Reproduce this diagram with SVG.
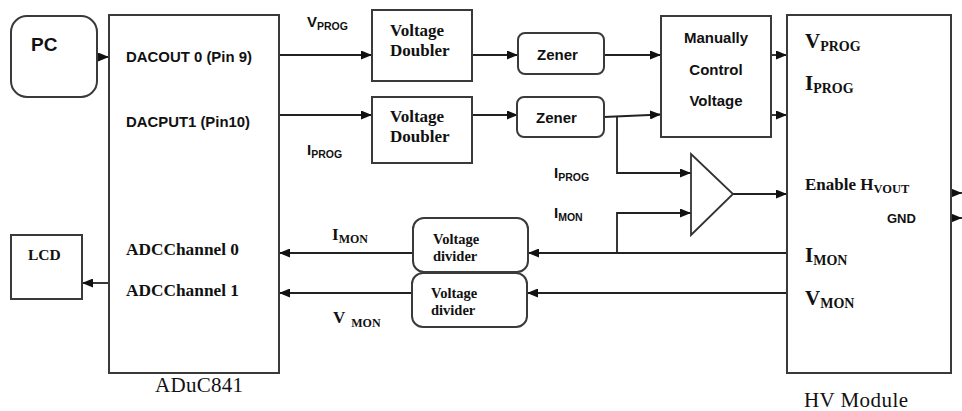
<svg xmlns="http://www.w3.org/2000/svg" width="962" height="411" viewBox="0 0 962 411">
<defs>
<marker id="ah" markerUnits="userSpaceOnUse" markerWidth="11" markerHeight="9" refX="11" refY="4.5" orient="auto">
<path d="M0,0 L11,4.5 L0,9 z" fill="#111"/>
</marker>
<style>
.box{fill:#fff;stroke:#3a3a3a;stroke-width:2}
.ln{fill:none;stroke:#222;stroke-width:1.8}
.sb{font-family:"Liberation Sans",Arial,sans-serif;font-weight:bold;fill:#111}
.rb{font-family:"Liberation Serif","Times New Roman",serif;font-weight:bold;fill:#111}
.rr{font-family:"Liberation Serif","Times New Roman",serif;fill:#111}
</style>
</defs>
<rect width="962" height="411" fill="#fff"/>

<g id="connectors">
<line class="ln" x1="97" y1="57" x2="109" y2="57" marker-end="url(#ah)"/>
<line class="ln" x1="279" y1="55" x2="372" y2="55" marker-end="url(#ah)"/>
<line class="ln" x1="279" y1="115" x2="372" y2="115" marker-end="url(#ah)"/>
<line class="ln" x1="472" y1="55" x2="518" y2="55" marker-end="url(#ah)"/>
<line class="ln" x1="472" y1="115" x2="518" y2="115" marker-end="url(#ah)"/>
<line class="ln" x1="604" y1="55" x2="661" y2="55" marker-end="url(#ah)"/>
<line class="ln" x1="604" y1="117" x2="661" y2="114.5" marker-end="url(#ah)"/>
<polyline class="ln" points="617,116.5 617,173 691,173" marker-end="url(#ah)"/>
<polyline class="ln" points="617,253 617,213 691,213" marker-end="url(#ah)"/>
<line class="ln" x1="771" y1="55" x2="787" y2="55" marker-end="url(#ah)"/>
<line class="ln" x1="771" y1="115" x2="787" y2="115" marker-end="url(#ah)"/>
<line class="ln" x1="733" y1="194" x2="787" y2="194" marker-end="url(#ah)"/>
<line class="ln" x1="787" y1="253" x2="528" y2="253" marker-end="url(#ah)"/>
<line class="ln" x1="787" y1="293" x2="527" y2="293" marker-end="url(#ah)"/>
<line class="ln" x1="413" y1="253" x2="279" y2="253" marker-end="url(#ah)"/>
<line class="ln" x1="412" y1="293" x2="279" y2="293" marker-end="url(#ah)"/>
<line class="ln" x1="109" y1="283" x2="82" y2="283" marker-end="url(#ah)"/>
<line class="ln" x1="951" y1="193" x2="962" y2="193" marker-end="url(#ah)"/>
<line class="ln" x1="951" y1="218" x2="962" y2="218" marker-end="url(#ah)"/>
</g>

<g id="pc">
<rect class="box" x="11" y="16" width="86" height="81" rx="16"/>
<text class="sb" x="31" y="51" font-size="19">PC</text>
</g>

<g id="aduc841">
<rect class="box" x="109" y="15" width="170" height="358"/>
<text class="sb" x="126" y="62" font-size="14.5" textLength="126" lengthAdjust="spacingAndGlyphs">DACOUT 0 (Pin 9)</text>
<text class="sb" x="126" y="127" font-size="14.5" textLength="124" lengthAdjust="spacingAndGlyphs">DACPUT1 (Pin10)</text>
<text class="rb" x="126" y="255" font-size="16.5" textLength="113" lengthAdjust="spacingAndGlyphs">ADCChannel 0</text>
<text class="rb" x="126" y="296" font-size="16.5" textLength="113" lengthAdjust="spacingAndGlyphs">ADCChannel 1</text>
<text class="rr" x="155" y="392" font-size="21" textLength="88">ADuC841</text>
</g>

<g id="lcd">
<rect class="box" x="11" y="235" width="71" height="64"/>
<text class="rb" x="28" y="260" font-size="15.5">LCD</text>
</g>

<g id="vd1">
<rect class="box" x="372" y="10" width="100" height="71"/>
<text class="rb" x="390" y="36" font-size="17">Voltage</text>
<text class="rb" x="390" y="56" font-size="17">Doubler</text>
</g>

<g id="vd2">
<rect class="box" x="372" y="97" width="100" height="66"/>
<text class="rb" x="390" y="122" font-size="17">Voltage</text>
<text class="rb" x="390" y="142" font-size="17">Doubler</text>
</g>

<g id="zener1">
<rect class="box" x="518" y="33" width="86" height="41" rx="7"/>
<text class="sb" x="537" y="60" font-size="15">Zener</text>
</g>

<g id="zener2">
<rect class="box" x="517" y="97" width="87" height="40" rx="7"/>
<text class="sb" x="536" y="123" font-size="15">Zener</text>
</g>

<g id="manual">
<rect class="box" x="661" y="16" width="110" height="121"/>
<text class="sb" x="716" y="43" font-size="15" text-anchor="middle">Manually</text>
<text class="sb" x="716" y="75" font-size="15" text-anchor="middle">Control</text>
<text class="sb" x="716" y="106" font-size="15" text-anchor="middle">Voltage</text>
</g>

<g id="comparator">
<polygon points="691,154 733,194 691,235" fill="#fff" stroke="#333" stroke-width="1.8"/>
</g>

<g id="divider1">
<rect class="box" x="413" y="218" width="115" height="54" rx="11"/>
<text class="rb" x="433" y="244" font-size="14.5">Voltage</text>
<text class="rb" x="433" y="261" font-size="14.5">divider</text>
</g>

<g id="divider2">
<rect class="box" x="412" y="273" width="115" height="54" rx="11"/>
<text class="rb" x="431" y="298" font-size="14.5">Voltage</text>
<text class="rb" x="431" y="315" font-size="14.5">divider</text>
</g>

<g id="hvmodule">
<rect class="box" x="787" y="15" width="164" height="358"/>
<text class="rb" x="805" y="48" font-size="21">V<tspan font-size="14" dy="3">PROG</tspan></text>
<text class="rb" x="805" y="90" font-size="21">I<tspan font-size="14" dy="3">PROG</tspan></text>
<text class="rb" x="805" y="190" font-size="17">Enable H<tspan font-size="12.5" dy="3">VOUT</tspan></text>
<text class="sb" x="887" y="223" font-size="13">GND</text>
<text class="rb" x="805" y="262" font-size="21">I<tspan font-size="14" dy="3">MON</tspan></text>
<text class="rb" x="805" y="305" font-size="21">V<tspan font-size="14" dy="3">MON</tspan></text>
<text class="rr" x="804" y="407" font-size="21" textLength="104">HV Module</text>
</g>

<g id="labels">
<text class="sb" x="307" y="27" font-size="15">V<tspan font-size="10.5" dy="3">PROG</tspan></text>
<text class="sb" x="307" y="155" font-size="15">I<tspan font-size="10.5" dy="3">PROG</tspan></text>
<text class="sb" x="554" y="178" font-size="15">I<tspan font-size="10.5" dy="3">PROG</tspan></text>
<text class="sb" x="554" y="218" font-size="15">I<tspan font-size="10.5" dy="3">MON</tspan></text>
<text class="rb" x="332" y="240" font-size="17">I<tspan font-size="12" dy="3">MON</tspan></text>
<text class="rb" x="333" y="323" font-size="17">V<tspan font-size="12" dx="6" dy="4">MON</tspan></text>
</g>
</svg>
